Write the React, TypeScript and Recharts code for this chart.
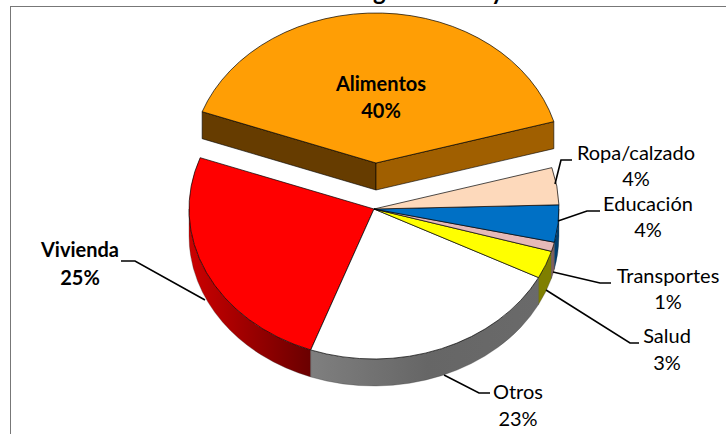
import React from "react";
import { PieChart, Pie } from "recharts";

const categories = ["Alimentos", "Vivienda", "Otros", "Salud", "Transportes", "Educación", "Ropa/calzado"];
const shares = [40, 25, 23, 3, 1, 4, 4];
const topColors = ["#ff9e05", "#ff0000", "#ffffff", "#ffff00", "#e6b9b8", "#0070c5", "#fdd9bb"];
const rimColors = ["#9c5c00", "url(#rimRed)", "url(#rimGrey)", "#7f7f00", "#806060", "#003f70", "#8a7060"];
const boldLabels = ["Alimentos", "Vivienda"];

const chartData = categories.map((name, i) => ({ name, value: shares[i], fill: topColors[i], rim: rimColors[i] }));

// layout of the callouts: text centre x, first-line y, second-line y, leader points
const labelLayout: Record<string, { x: number; y1: number; y2: number; line?: number[][] }> = {
  Alimentos: { x: 381, y1: 91, y2: 118 },
  Vivienda: { x: 80, y1: 257, y2: 285, line: [[205, 300], [135, 261], [121, 261]] },
  Otros: { x: 518, y1: 399, y2: 426, line: [[444, 375], [479, 393], [490, 393]] },
  Salud: { x: 667, y1: 343, y2: 370, line: [[546, 290], [630, 343], [639, 343]] },
  Transportes: { x: 668, y1: 283, y2: 309, line: [[553, 272], [600, 283], [611, 283]] },
  "Educación": { x: 648, y1: 211, y2: 237, line: [[558, 221], [587, 211], [600, 211]] },
  "Ropa/calzado": { x: 636, y1: 160, y2: 186, line: [[555, 184], [561, 160], [572, 160]] },
};

const SQUASH = 150 / 185;
const DEPTH = 27;
const RAD = Math.PI / 180;
const EXPLODE_X = 2;
const EXPLODE_Y = -46;
const FONT = "Lato, Carlito, sans-serif";

function pt(cx: number, cy: number, r: number, deg: number, dy = 0): [number, number] {
  return [cx + r * Math.cos(deg * RAD), cy - r * SQUASH * Math.sin(deg * RAD) + dy];
}

function SliceShape(props: any) {
  const { cx, cy, outerRadius: r, startAngle, endAngle, fill, payload } = props;
  const exploded = payload?.name === "Alimentos" || props.name === "Alimentos";
  const ox = exploded ? cx + EXPLODE_X : cx;
  const oy = exploded ? cy + EXPLODE_Y : cy;
  const ry = r * SQUASH;
  const [x1, y1] = pt(ox, oy, r, startAngle);
  const [x2, y2] = pt(ox, oy, r, endAngle);
  const large = endAngle - startAngle > 180 ? 1 : 0;
  const top = `M${ox},${oy}L${x1},${y1}A${r},${ry} 0 ${large} 0 ${x2},${y2}Z`;
  const parts: React.ReactNode[] = [];
  if (exploded) {
    parts.push(
      <path key="wl" d={`M${ox},${oy}L${x2},${y2}L${x2},${y2 + DEPTH}L${ox},${oy + DEPTH}Z`} fill="#663c00" stroke="#000" strokeWidth={0.6} />,
      <path key="wr" d={`M${ox},${oy}L${x1},${y1}L${x1},${y1 + DEPTH}L${ox},${oy + DEPTH}Z`} fill="#a05f00" stroke="#000" strokeWidth={0.6} />
    );
  } else {
    const a1 = Math.max(startAngle, 180);
    const a2 = Math.min(endAngle, 360);
    if (a2 > a1) {
      const [rx1, ry1] = pt(ox, oy, r, a1);
      const [rx2, ry2] = pt(ox, oy, r, a2);
      const d = `M${rx1},${ry1}A${r},${ry} 0 0 0 ${rx2},${ry2}L${rx2},${ry2 + DEPTH}A${r},${ry} 0 0 1 ${rx1},${ry1 + DEPTH}Z`;
      parts.push(<path key="rim" d={d} fill={payload?.rim ?? props.rim} stroke="#333" strokeWidth={0.3} />);
    }
  }
  parts.push(<path key="top" d={top} fill={fill} stroke="#000" strokeWidth={0.7} />);
  return <g>{parts}</g>;
}

function SliceLabel(props: any) {
  const name: string = props.name ?? props.payload?.name;
  const value: number = props.value ?? props.payload?.value;
  const l = labelLayout[name];
  if (!l) return null;
  const bold = boldLabels.includes(name);
  return (
    <g>
      {l.line && <polyline points={l.line.map((p) => p.join(",")).join(" ")} fill="none" stroke="#000" strokeWidth={1.6} />}
      <text textAnchor="middle" fontFamily={FONT} fontSize={20} fontWeight={bold ? 700 : 400} fill="#000">
        <tspan x={l.x} y={l.y1}>{name}</tspan>
        <tspan x={l.x} y={l.y2}>{value}%</tspan>
      </text>
    </g>
  );
}

export default function App() {
  return (
    <div style={{ position: "fixed", left: 0, top: 0, width: 726, height: 434, background: "#fff", overflow: "hidden" }}>
      <div style={{ position: "absolute", left: 10, top: 6, width: 716, height: 428, borderLeft: "1.5px solid #777", borderTop: "1.5px solid #777", boxSizing: "border-box" }} />
      <div style={{ position: "absolute", left: 373, top: -24, fontFamily: FONT, fontWeight: 700, fontSize: 24, lineHeight: "30px" }}>g</div>
      <div style={{ position: "absolute", left: 491, top: -24, fontFamily: FONT, fontWeight: 700, fontSize: 24, lineHeight: "30px" }}>y</div>
      <svg width={0} height={0} style={{ position: "absolute" }}>
        <defs>
          <linearGradient id="rimRed" gradientUnits="userSpaceOnUse" x1="189" y1="0" x2="311" y2="0">
            <stop offset="0" stopColor="#cc0000" />
            <stop offset="1" stopColor="#6a0000" />
          </linearGradient>
          <linearGradient id="rimGrey" gradientUnits="userSpaceOnUse" x1="311" y1="0" x2="545" y2="0">
            <stop offset="0" stopColor="#7f7f7f" />
            <stop offset="0.5" stopColor="#666666" />
            <stop offset="1" stopColor="#6a6a6a" />
          </linearGradient>
        </defs>
      </svg>
      <div style={{ position: "absolute", left: 0, top: 0 }}>
        <PieChart width={726} height={434} margin={{ top: 0, right: 0, bottom: 0, left: 0 }}>
          <Pie
            data={chartData}
            dataKey="value"
            nameKey="name"
            cx={374}
            cy={209}
            innerRadius={0}
            outerRadius={185}
            startAngle={16}
            endAngle={376}
            paddingAngle={0}
            stroke="#000"
            shape={SliceShape}
            label={SliceLabel}
            labelLine={false}
            isAnimationActive={false}
          />
        </PieChart>
      </div>
    </div>
  );
}
